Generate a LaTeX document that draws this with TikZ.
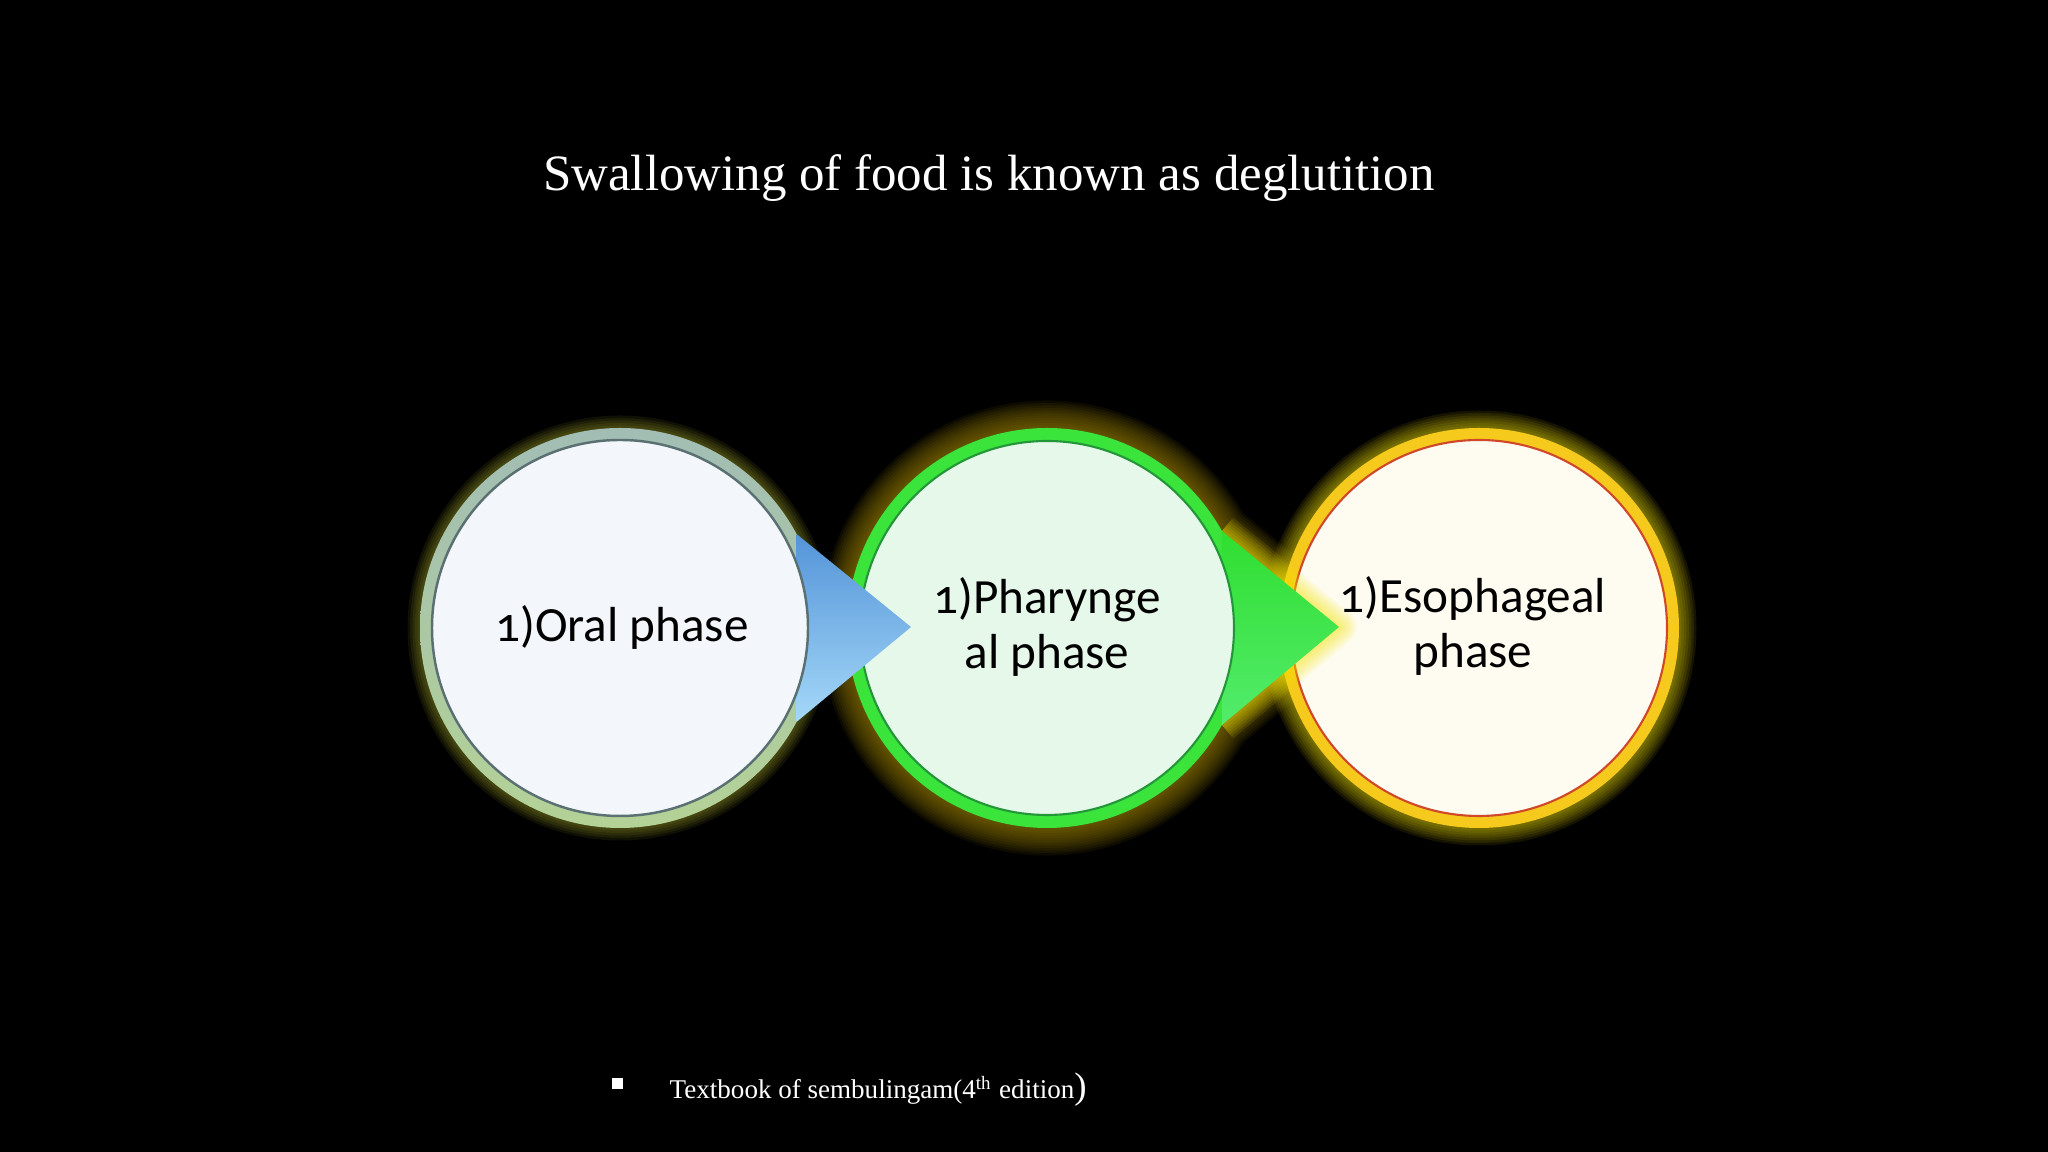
\documentclass[tikz,border=0pt]{standalone}
\usepackage{fontspec}
\setmainfont{Liberation Serif}
\newfontfamily\phasefont{Carlito}[Numbers=OldStyle]
\usetikzlibrary{calc}

\definecolor{oralringtop}{HTML}{A2BDB4}
\definecolor{oralringbot}{HTML}{B4D296}
\definecolor{oralline}{HTML}{5A7072}
\definecolor{oralfill}{HTML}{F3F6FA}
\definecolor{pharring}{HTML}{3AE43A}
\definecolor{pharline}{HTML}{23963A}
\definecolor{pharfill}{HTML}{E6F8EA}
\definecolor{esoring}{HTML}{F6CA1C}
\definecolor{esoline}{HTML}{D0482A}
\definecolor{esofill}{HTML}{FEFBF1}
\definecolor{bluetop}{HTML}{5494D8}
\definecolor{bluebot}{HTML}{A4D8F8}
\definecolor{greentop}{HTML}{30DE30}
\definecolor{greenbot}{HTML}{52EC6C}
\definecolor{glowpale}{HTML}{B8BC30}
\definecolor{glowolive}{HTML}{9A8000}
\definecolor{glowyellow}{HTML}{F4E600}

\tikzset{
  phase/.style={font=\phasefont\fontsize{14}{15.5}\selectfont, align=center, text=black, inner sep=0pt},
  heading/.style={font=\fontsize{14.5}{16}\selectfont, text=white, inner sep=0pt},
  source/.style={font=\fontsize{7.7}{10}\selectfont, text=white, inner sep=0pt},
  halo/.style={line width=#1cm, line join=round, opacity=0.09}
}

\begin{document}
\begin{tikzpicture}
\useasboundingbox[fill=black] (0,0) rectangle (20.48,11.52);
\coordinate (oral) at (6.20,5.24);
\coordinate (phar) at (10.47,5.24);
\coordinate (eso) at (14.79,5.24);
\coordinate (oraltip) at (9.11,5.25);
\coordinate (phartip) at (13.39,5.25);

\foreach \w in {0.05,0.1,...,0.3}
  \draw[halo=\w, draw=glowpale] (oral) circle (2);
\foreach \w in {0.05,0.1,...,0.56}
  \draw[halo=\w, draw=glowolive] ($(phar)+(29:2)$) arc[start angle=29, end angle=331, radius=2] -- (phartip) -- cycle;
\foreach \w in {0.05,0.1,...,0.36}
  \draw[halo=\w, draw=glowyellow] (eso) circle (2);

\fill[esoring] (eso) circle (2);
\fill[esofill, draw=esoline, line width=0.6pt] (eso) circle (1.88);
\foreach \w in {0.05,0.1,...,0.4}
  \draw[halo=\w, draw=glowyellow] ($(phar)+(29:2)$) -- (phartip) -- ($(phar)+(-29:2)$);

\fill[pharring] (phar) circle (2);
\shade[top color=greentop, bottom color=greenbot] ($(phar)+(29:2)$) -- (phartip) -- ($(phar)+(-29:2)$) -- cycle;
\fill[pharfill, draw=pharline, line width=0.6pt] (phar) circle (1.87);

\shade[top color=oralringtop, bottom color=oralringbot] (oral) circle (2);
\shade[top color=bluetop, bottom color=bluebot] ($(oral)+(28:2)$) -- (oraltip) -- ($(oral)+(-28:2)$) -- cycle;
\fill[oralfill, draw=oralline, line width=0.7pt] (oral) circle (1.88);

\node[phase] (oraltext) at (6.22,5.25) {1)Oral phase};
\node[phase] (phartext) at (10.47,5.25) {1)Pharynge\\al phase};
\node[phase] (esotext) at (14.73,5.26) {1)Esophageal\\phase};

\node[heading, anchor=base] (title) at (9.89,9.61) {Swallowing of food is known as deglutition};

\node[fill=white, minimum size=0.11cm, inner sep=0pt] (bullet) at (6.175,0.68) {};
\node[source, anchor=base west] (book) at (6.69,0.53) {Textbook of sembulingam(4\textsuperscript{th} edition{\fontsize{10.5}{11}\selectfont)}};
\end{tikzpicture}
\end{document}
